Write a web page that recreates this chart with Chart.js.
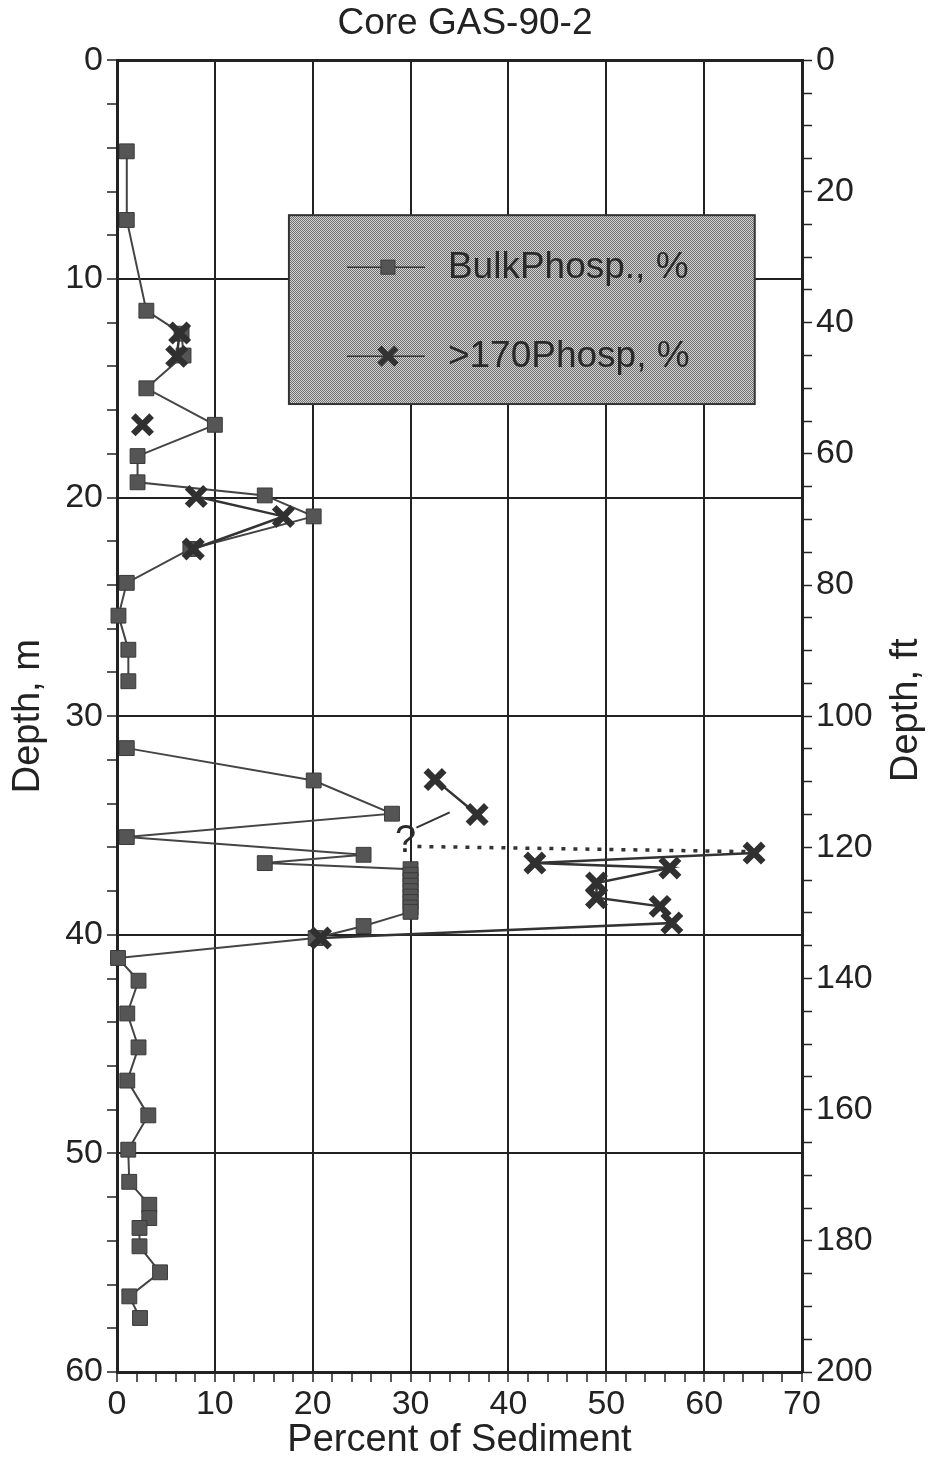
<!DOCTYPE html>
<html><head><meta charset="utf-8">
<script src="https://cdn.jsdelivr.net/npm/chart.js@4.4.0/dist/chart.umd.min.js"></script>
<style>html,body{margin:0;padding:0;background:#fff}canvas{display:block}</style>
</head><body>
<canvas id="c" width="930" height="1464"></canvas>
<script>
const chartTitle = 'Core GAS-90-2';
const xTitle = 'Percent of Sediment';
const yLeftTitle = 'Depth, m';
const yRightTitle = 'Depth, ft';
const bulkLabel = 'BulkPhosp., %';
const coarseLabel = '>170Phosp, %';

// BulkPhosp., % (null = break in the line)
const bulkDepth = [4.16, 7.3, 11.45, 12.5, 13.5, 15.0, 16.67, 18.1, 19.3, 19.9, 20.86, 22.35, 23.9, 25.4, 26.96, 28.4, null,
  31.46, 32.94, 34.46, 35.53, 36.34, 36.72, 37.0, 37.25, 37.5, 37.75, 38.0, 38.25, 38.5, 38.75, 38.95, 39.6, 40.15, 41.06,
  42.1, 43.6, 45.15, 46.67, 48.26, 49.83, 51.3, 52.35, 52.96, 53.41, 54.25, 55.44, 56.54, 57.53];
const bulkPct = [1.0, 1.0, 3.0, 6.6, 6.8, 3.0, 10.0, 2.1, 2.1, 15.1, 20.1, 7.5, 1.0, 0.15, 1.16, 1.16, null,
  1.0, 20.1, 28.1, 1.0, 25.2, 15.1, 30.0, 30.0, 30.0, 30.0, 30.0, 30.0, 30.0, 30.0, 30.0, 25.2, 20.3, 0.1,
  2.2, 1.05, 2.2, 1.05, 3.2, 1.15, 1.25, 3.3, 3.3, 2.3, 2.3, 4.4, 1.26, 2.35];

// >170Phosp, % (null = break in the line)
const coarseDepth = [12.47, 13.54, null, 16.67, null, 19.95, 20.86, 22.35, null, 32.9, 34.5, null,
  36.26, 36.72, 36.94, 37.63, 38.3, 38.7, 39.46, 40.15];
const coarsePct = [6.4, 6.1, null, 2.6, null, 8.1, 17.0, 7.8, null, 32.5, 36.8, null,
  65.1, 42.7, 56.5, 49.0, 49.0, 55.5, 56.7, 20.8];

// hand-drawn annotations
const linkDepth = [35.1, 34.4];
const linkPct = [30.6, 34.0];
const dottedDepth = [35.96, 36.2];
const dottedPct = [30.7, 65.1];
const queryText = '?';
const queryDepth = 35.75;
const queryPct = 29.5;

// axes
const depthM = {min: 0, max: 60, major: 10, minor: 2};
const depthFt = {min: 0, max: 200, major: 20, minor: 5};
const pctAxis = {min: 0, max: 70, major: 10, minor: 2};

const FONT = '"Liberation Sans", Arial, Helvetica, sans-serif';
const INK = '#222';
const pts = (xs, ys) => xs.map((v, i) => ({x: v, y: ys[i]}));

function stipple(ctx) {
  const c = document.createElement('canvas');
  c.width = 2; c.height = 2;
  const g = c.getContext('2d');
  g.fillStyle = '#d4d4d4'; g.fillRect(0, 0, 2, 2);
  g.fillStyle = '#6e6e6e'; g.fillRect(0, 0, 1, 1); g.fillRect(1, 1, 1, 1);
  return ctx.createPattern(c, 'repeat');
}

function drawSquare(ctx, x, y) {
  ctx.fillStyle = '#555'; ctx.strokeStyle = '#3a3a3a'; ctx.lineWidth = 1;
  ctx.fillRect(x - 7, y - 7, 14, 14); ctx.strokeRect(x - 7, y - 7, 14, 14);
}
function drawX(ctx, x, y) {
  ctx.strokeStyle = '#333'; ctx.lineWidth = 6; ctx.lineCap = 'butt';
  const r = 8.5;
  ctx.beginPath();
  ctx.moveTo(x - r, y - r); ctx.lineTo(x + r, y + r);
  ctx.moveTo(x + r, y - r); ctx.lineTo(x - r, y + r);
  ctx.stroke();
}

const overlay = {
  id: 'overlay',
  afterDatasetsDraw(chart) {
    const {ctx, chartArea: a, scales} = chart;
    const w = a.right - a.left, h = a.bottom - a.top;
    ctx.save();
    // question mark annotation
    ctx.font = '38px ' + FONT;
    ctx.fillStyle = '#2a2a2a'; ctx.textAlign = 'center'; ctx.textBaseline = 'middle';
    ctx.fillText(queryText, scales.x.getPixelForValue(queryPct), scales.y.getPixelForValue(queryDepth));
    // legend box
    const L = a.left + 0.251 * w, R = a.left + 0.931 * w;
    const T = a.top + 0.118 * h, B = a.top + 0.262 * h;
    ctx.fillStyle = stipple(ctx);
    ctx.fillRect(L, T, R - L, B - T);
    ctx.strokeStyle = '#333'; ctx.lineWidth = 2;
    ctx.strokeRect(L, T, R - L, B - T);
    const rows = [
      {label: chart.data.datasets[0].label, y: T + 52, m: drawSquare},
      {label: chart.data.datasets[1].label, y: T + 141, m: drawX}
    ];
    rows.forEach(r => {
      ctx.strokeStyle = '#333'; ctx.lineWidth = 1.5;
      ctx.beginPath(); ctx.moveTo(L + 58, r.y); ctx.lineTo(L + 136, r.y); ctx.stroke();
      r.m(ctx, L + 99, r.y);
      ctx.fillStyle = '#2a2a2a'; ctx.font = '37px ' + FONT;
      ctx.textAlign = 'left'; ctx.textBaseline = 'middle';
      ctx.fillText(r.label, L + 159, r.y + 1);
    });
    ctx.restore();
  },
  afterDraw(chart) {
    const {ctx, chartArea: a, scales} = chart;
    ctx.save();
    ctx.translate(scales.yft.right - 23, (a.top + a.bottom) / 2 - 6);
    ctx.rotate(-Math.PI / 2);
    ctx.font = '38px ' + FONT; ctx.fillStyle = INK;
    ctx.textAlign = 'center'; ctx.textBaseline = 'middle';
    ctx.fillText(yRightTitle, 0, 0);
    ctx.restore();
  }
};

const majorGrid = (ax) => (c) => {
  const v = c.tick ? c.tick.value : null;
  return (v !== null && v % ax.major === 0 && v > ax.min && v < ax.max) ? INK : 'rgba(0,0,0,0)';
};
const labelCb = (ax) => (v) => (Math.abs(v % ax.major) < 1e-9 ? String(v) : '');

new Chart(document.getElementById('c'), {
  type: 'scatter',
  data: {
    datasets: [
      {label: bulkLabel, data: pts(bulkPct, bulkDepth), showLine: true, spanGaps: false,
       borderColor: '#444', borderWidth: 2, pointStyle: 'rect', pointRadius: 10.5,
       pointBackgroundColor: '#555', pointBorderColor: '#3a3a3a', pointBorderWidth: 1,
       xAxisID: 'x', yAxisID: 'y', clip: false, order: 2},
      {label: coarseLabel, data: pts(coarsePct, coarseDepth), showLine: true, spanGaps: false,
       borderColor: '#333', borderWidth: 2.5, pointStyle: 'crossRot', pointRadius: 13,
       pointBorderColor: '#303030', pointBorderWidth: 6.5,
       xAxisID: 'x', yAxisID: 'y', clip: false, order: 1},
      {label: 'link', data: pts(linkPct, linkDepth), showLine: true, borderColor: '#333',
       borderWidth: 2, pointRadius: 0, xAxisID: 'x', yAxisID: 'y', order: 0},
      {label: 'dotted', data: pts(dottedPct, dottedDepth), showLine: true, borderColor: '#333',
       borderWidth: 3.5, borderDash: [4, 8], pointRadius: 0, xAxisID: 'x', yAxisID: 'y', order: 0}
    ]
  },
  options: {
    responsive: false, animation: false, devicePixelRatio: 1,
    layout: {padding: 0},
    plugins: {
      legend: {display: false}, tooltip: {enabled: false},
      title: {display: true, text: chartTitle, color: INK,
        font: {family: FONT, size: 37, weight: 'normal', lineHeight: 1.2},
        padding: {top: 2, bottom: 14}}
    },
    scales: {
      x: {type: 'linear', position: 'bottom', min: pctAxis.min, max: pctAxis.max,
        afterFit: (s) => { s.height = 92; },
        ticks: {stepSize: pctAxis.minor, autoSkip: false, maxRotation: 0, color: INK, padding: 2,
          font: {family: FONT, size: 34}, callback: labelCb(pctAxis)},
        grid: {color: majorGrid(pctAxis), lineWidth: 2, tickColor: INK, tickLength: 10, tickWidth: 1.5},
        border: {display: true, color: INK, width: 3},
        title: {display: true, text: xTitle, color: INK, font: {family: FONT, size: 38, lineHeight: 1.2},
          padding: {top: 0, bottom: 1}}
      },
      xTop: {type: 'linear', position: 'top', min: pctAxis.min, max: pctAxis.max,
        afterFit: (s) => { s.height = 0; },
        ticks: {display: false}, grid: {drawOnChartArea: false, drawTicks: false},
        border: {display: true, color: INK, width: 3}
      },
      y: {type: 'linear', position: 'left', reverse: true, min: depthM.min, max: depthM.max,
        afterFit: (s) => { s.width = 117; },
        ticks: {stepSize: depthM.minor, autoSkip: false, color: INK, padding: 4,
          font: {family: FONT, size: 34}, callback: labelCb(depthM)},
        grid: {color: majorGrid(depthM), lineWidth: 2, tickColor: INK, tickLength: 10, tickWidth: 1.5},
        border: {display: true, color: INK, width: 3},
        title: {display: true, text: yLeftTitle, color: INK, font: {family: FONT, size: 38, lineHeight: 1.2},
          padding: {top: 6, bottom: 0}}
      },
      yft: {type: 'linear', position: 'right', reverse: true, min: depthFt.min, max: depthFt.max,
        afterFit: (s) => { s.width = 128; },
        ticks: {stepSize: depthFt.minor, autoSkip: false, color: INK, padding: 4,
          font: {family: FONT, size: 34}, callback: labelCb(depthFt)},
        grid: {drawOnChartArea: false, tickColor: INK, tickLength: 10, tickWidth: 1.5},
        border: {display: true, color: INK, width: 3}
      }
    }
  },
  plugins: [overlay]
});
</script>
</body></html>
